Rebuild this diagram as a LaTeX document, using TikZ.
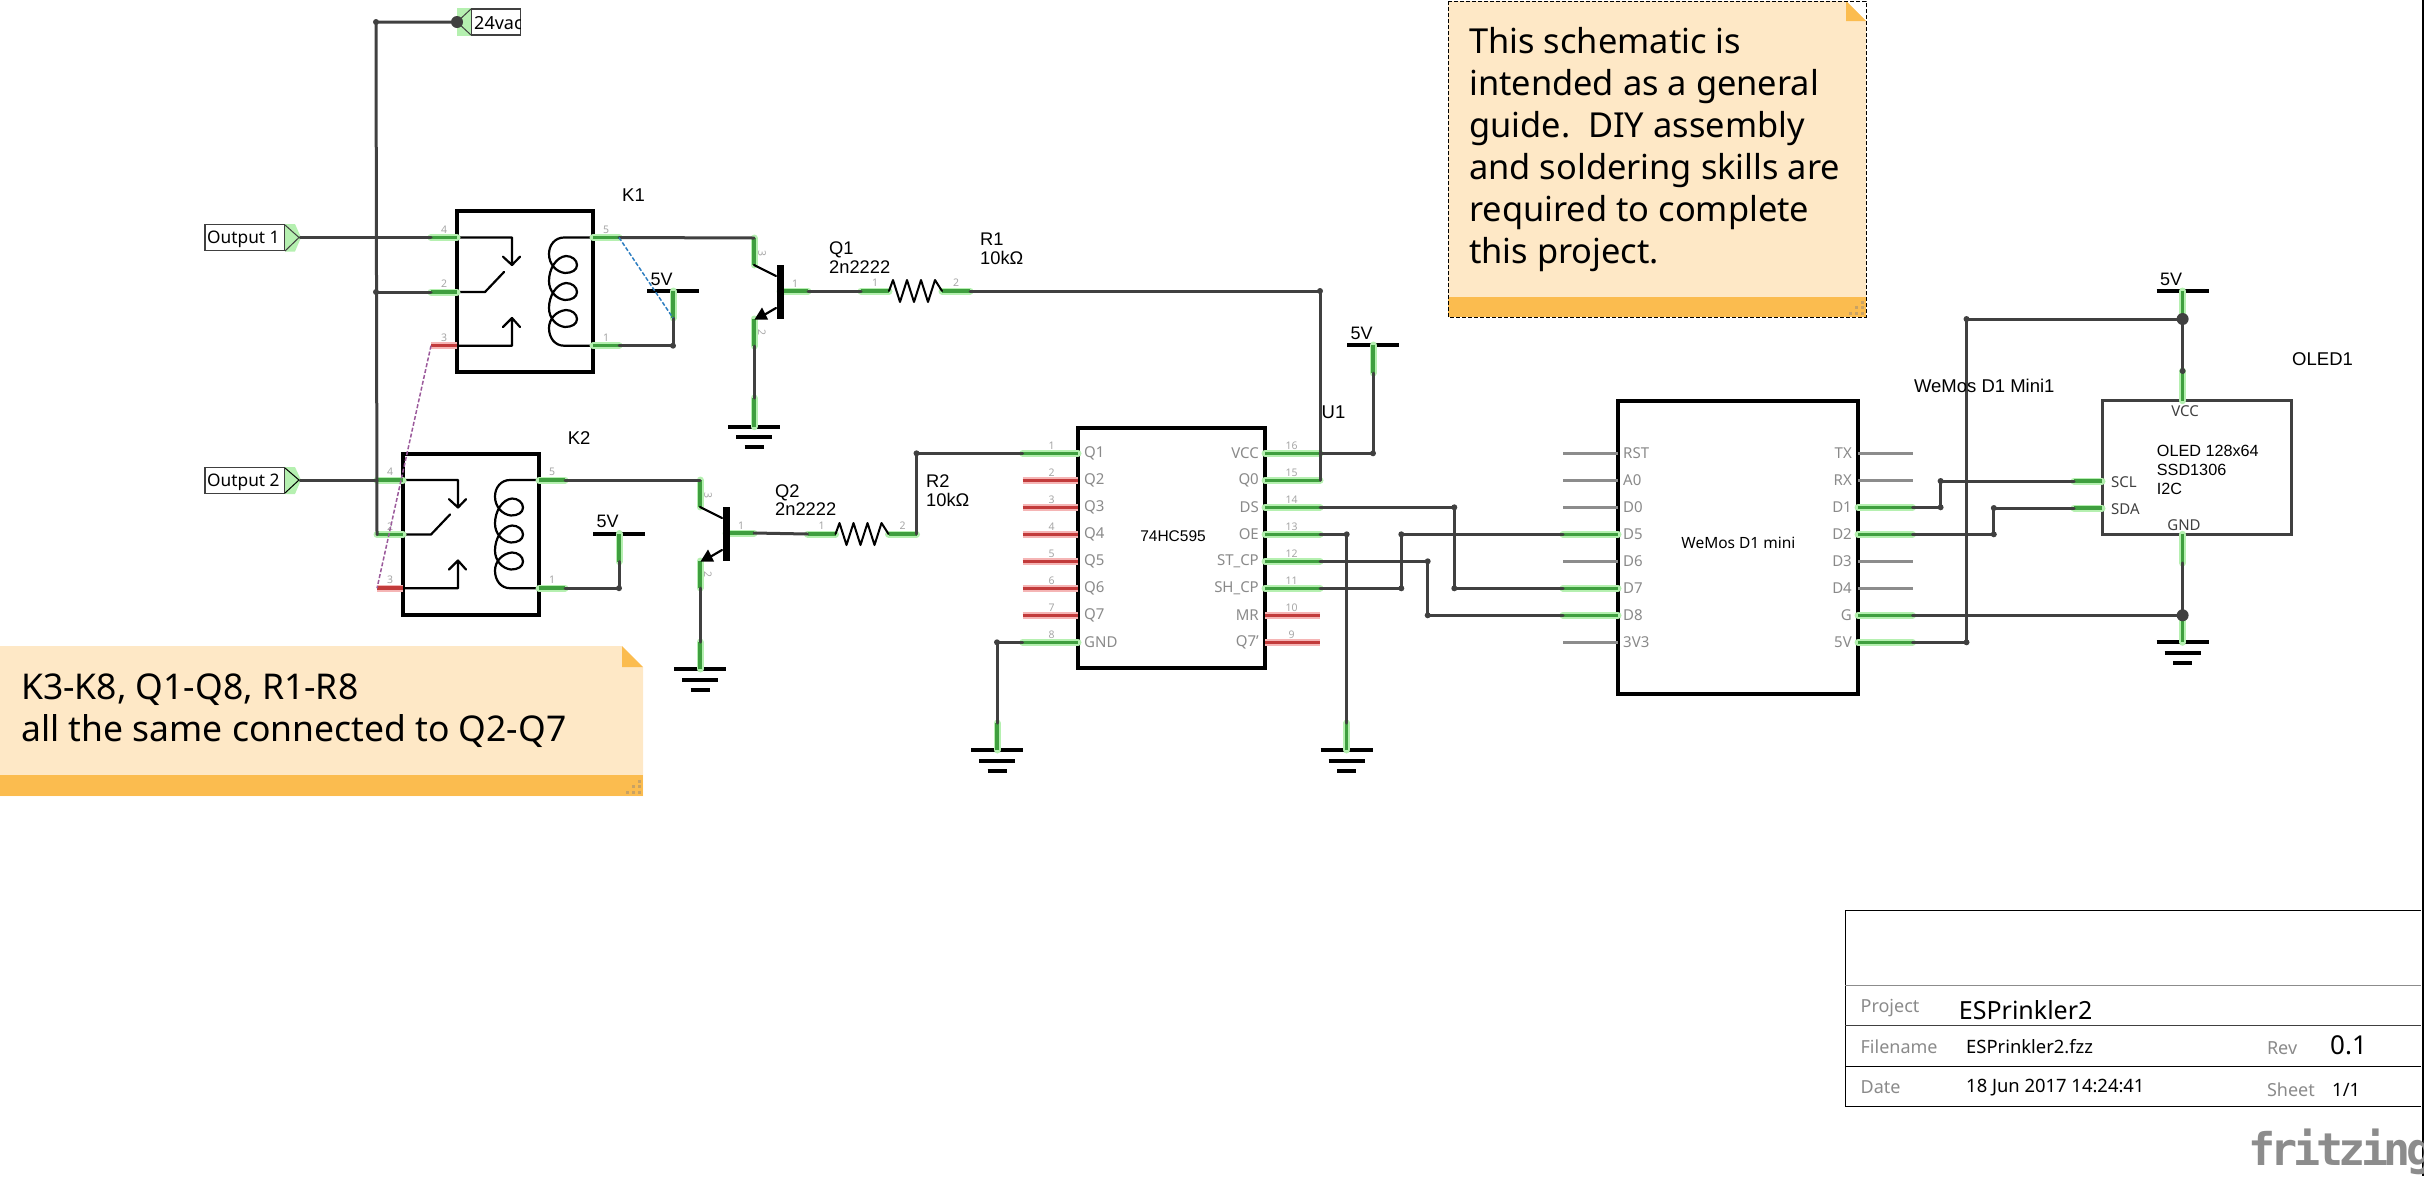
\documentclass[tikz,border=0pt]{standalone}
\usepackage{fontspec}
\setmainfont{Noto Sans}
\newfontfamily\arialf{Liberation Sans}
\newfontfamily\fzf[LetterSpace=-10]{DejaVu Sans Mono Bold}
\definecolor{wirec}{HTML}{404040}
\definecolor{okc}{HTML}{3F9F3F}
\definecolor{okh}{HTML}{B5F0B0}
\definecolor{badc}{HTML}{C23B3B}
\definecolor{badh}{HTML}{F5B5B5}
\definecolor{offc}{HTML}{8C8C8C}
\definecolor{notec}{HTML}{FEE8C6}
\definecolor{bandc}{HTML}{FBBC4F}
\definecolor{gripc}{HTML}{C9A263}
\definecolor{graytxt}{HTML}{8A8A8A}
\definecolor{ratblue}{HTML}{2F7FC1}
\definecolor{ratpurple}{HTML}{9B5A9B}
\newcommand{\fsz}[1]{\fontsize{#1}{#1}\selectfont}
\tikzset{
  x=1pt,y=-1pt,
  wire/.style={draw=wirec,line width=3pt,line cap=round,line join=round},
  pinok/.style={draw=okc,line width=3.5pt,preaction={draw=okh,line width=7pt,line cap=round}},
  pinbad/.style={draw=badc,line width=3.5pt,preaction={draw=badh,line width=7pt}},
  pinoff/.style={draw=offc,line width=3.5pt},
  sym/.style={draw=black,line width=2.2pt,line cap=round,line join=round},
  bar/.style={draw=black,line width=4pt},
  part/.style={draw=black,line width=4pt,fill=white,inner sep=0pt},
  lab/.style={font=\arialf\fsz{18.5},inner sep=0pt,anchor=west,text=black},
  lab2/.style={lab,align=left,font=\arialf\fontsize{18.3}{18.8}\selectfont},
  pinname/.style={font=\fsz{15},text=graytxt,inner sep=0pt},
  pinnum/.style={font=\fsz{10.5},text=black!35,inner sep=0pt},
  oledpin/.style={font=\fsz{15},text=wirec,inner sep=0pt},
  tlabel/.style={font=\fsz{18},text=graytxt,inner sep=0pt,anchor=west},
  tvalue/.style={font=\fsz{18.4},text=black,inner sep=0pt,anchor=west},
  flagbox/.style={draw=wirec,line width=1.2pt,fill=white,inner sep=0pt},
  notetext/.style={align=left,inner sep=0pt,anchor=base west,text=black},
  relay/.pic={
    \node[part,minimum width=136pt,minimum height=161pt] (-box) at (68,80.5) {};
    \coordinate (-4i) at (0,26.5); \coordinate (-2i) at (0,81); \coordinate (-3i) at (0,134.7);
    \coordinate (-5i) at (136,26.5); \coordinate (-1i) at (136,134.7);
    \draw[sym] (-4i) -- (55,26.5) -- (55,54) (46,45.7) -- (55,54) -- (63,45.7);
    \draw[sym] (-2i) -- (28,81) -- (47,61);
    \draw[sym] (-3i) -- (55,134.7) -- (55,107) (46,116) -- (55,107) -- (63,116);
    \draw[sym] (-5i) -- (107,26.5)
      .. controls (98,26.5) and (92,34) .. (92,43)
      .. controls (92,53) and (99,61) .. (108,62)
      .. controls (115,62) and (120,59) .. (120,54)
      .. controls (120,49) and (115,45) .. (109,45)
      .. controls (99,46) and (92,58) .. (92,70)
      .. controls (92,80) and (99,88) .. (108,89)
      .. controls (115,89) and (120,86) .. (120,81)
      .. controls (120,76) and (115,72) .. (109,72)
      .. controls (99,73) and (92,85) .. (92,97)
      .. controls (92,107) and (99,115) .. (108,116)
      .. controls (115,116) and (120,113) .. (120,108)
      .. controls (120,103) and (115,99) .. (109,99)
      .. controls (99,100) and (92,108) .. (92,117)
      .. controls (92,127) and (98,134.7) .. (107,134.7) -- (-1i);
    \coordinate (-4) at (-26,26.5); \coordinate (-2) at (-26,81); \coordinate (-3) at (-26,134.7);
    \coordinate (-5) at (162,26.5); \coordinate (-1) at (162,134.7);
    \draw[pinok] (-4) -- (-4i); \draw[pinok] (-2) -- (-2i); \draw[pinbad] (-3) -- (-3i);
    \draw[pinok] (-5i) -- (-5); \draw[pinok] (-1i) -- (-1);
    \node[pinnum] (-n4) at (-13,18.5) {4}; \node[pinnum] (-n2) at (-13,73) {2};
    \node[pinnum] (-n3) at (-13,126.7) {3}; \node[pinnum] (-n5) at (149,18.5) {5};
    \node[pinnum] (-n1) at (149,126.7) {1};
  },
  npn/.pic={
    \coordinate (-c) at (0,0); \coordinate (-ci) at (0,27);
    \coordinate (-b) at (54,53); \coordinate (-bi) at (26,53);
    \coordinate (-ei) at (0,81); \coordinate (-e) at (0,108);
    \draw[pinok] (-c) -- (-ci); \draw[pinok] (-ei) -- (-e); \draw[pinok] (-bi) -- (-b);
    \draw[sym] (-ci) -- (22,38);
    \draw[draw=black,line width=7pt] (26,27) -- (26,80.5);
    \draw[sym] (22,70) -- (10,77);
    \fill[black] (0.5,81.5) -- (8,69.5) -- (14,81.5) -- cycle;
    \node[pinnum,rotate=-90] (-n3) at (8,15) {3};
    \node[pinnum] (-n1) at (41,46) {1};
    \node[pinnum,rotate=-90] (-n2) at (8,94) {2};
  },
  resistor/.pic={
    \coordinate (-1) at (0,0); \coordinate (-1i) at (28,0);
    \coordinate (-2i) at (81,0); \coordinate (-2) at (109,0);
    \draw[pinok] (-1) -- (-1i); \draw[pinok] (-2i) -- (-2);
    \draw[sym,line width=2pt] (-1i) -- (32,-11) -- (39,11) -- (46,-11) -- (53,11) -- (60,-11) -- (67,11) -- (74,-11) -- (-2i);
    \node[pinnum] (-n1) at (14,-8) {1}; \node[pinnum] (-n2) at (95,-8) {2};
  },
  vcc/.pic={
    \coordinate (-p) at (0,0);
    \draw[bar] (-26,0) -- (26,0);
    \node[font=\arialf\fsz{18},inner sep=0pt] (-t) at (-11.5,-12) {5V};
  },
  gnd/.pic={
    \coordinate (-p) at (0,0);
    \draw[bar] (-26,0) -- (26,0) (-18,10.5) -- (18,10.5) (-9.5,20.5) -- (9.5,20.5);
  },
  grip/.pic={
    \foreach \a/\b in {-3.3/-15,-3.3/-9.4,-9.3/-9.4,-3.3/-3.7,-9.3/-3.7,-15.3/-3.7}
      \fill[gripc] (\a-1.5,\b-1.5) rectangle (\a+1.5,\b+1.5);
  },
  jn/.style={fill=wirec,circle,inner sep=0pt,minimum size=6pt},
  bigjn/.style={fill=wirec,circle,inner sep=0pt,minimum size=12pt},
}
\begin{document}
\begin{tikzpicture}
\useasboundingbox (0,0) rectangle (2424,1176);
\fill[black] (2422,0) rectangle (2424,1176);

% ---------- notes
\fill[notec] (1448,1) -- (1846,1) -- (1866,21) -- (1866,317) -- (1448,317) -- cycle;
\fill[bandc] (1448,297) rectangle (1866,317);
\fill[bandc] (1846,1) -- (1866,21) -- (1846,21) -- cycle;
\pic at (1866,317) {grip};
\draw[black,line width=1pt,dash pattern=on 4pt off 2pt] (1448,1) rectangle (1866,317);
\node[notetext,font=\fontsize{34.4}{42}\selectfont] (note1) at (1469,263.3) {This schematic is\\intended as a general\\guide.\ \ DIY assembly\\and soldering skills are\\required to complete\\this project.};

\fill[notec] (0,646) -- (622,646) -- (643,667) -- (643,796) -- (0,796) -- cycle;
\fill[bandc] (0,775) rectangle (643,796);
\fill[bandc] (622,646) -- (643,667) -- (622,667) -- cycle;
\pic at (643,796) {grip};
\node[notetext,font=\fontsize{35.5}{41.7}\selectfont] (note2) at (21,741) {K3-K8, Q1-Q8, R1-R8\\all the same connected to Q2-Q7};

% ---------- anchors of the relay section
\pic (K1) at (457,211) {relay};
\pic (K2) at (403,453.5) {relay};
\pic (Q1) at (754,238) {npn};
\pic (Q2) at (700,480) {npn};
\pic (R1) at (861,291) {resistor};
\pic (R2) at (807.5,534) {resistor};

% ---------- flags
\node[flagbox,minimum width=49.5pt,minimum height=26pt] (vacbox) at (495.8,22) {};
\begin{scope}
\clip (471,9) rectangle (520.5,35);
\node[font=\fsz{18},inner sep=0pt,anchor=west] (vactext) at (474,23) {24vac};
\end{scope}
\fill[okh] (457,7.5) rectangle (471,36);
\draw[wirec,line width=1pt] (471,9) -- (457,22) -- (471,35);
\coordinate (vac) at (457,22);

\node[flagbox,minimum width=80pt,minimum height=26pt] (out1) at (245,237.7) {};
\node[font=\fsz{17.3},inner sep=0pt,anchor=west] (out1t) at (207,239.7) {Output 1};
\fill[okh] (285,224) -- (295,224) -- (301,237.5) -- (295,251.5) -- (285,251.5) -- cycle;
\draw[wirec,line width=1pt] (285,225) -- (299,237.5) -- (285,251);
\coordinate (o1) at (300,237.5);

\node[flagbox,minimum width=80pt,minimum height=26pt] (out2) at (245,480.3) {};
\node[font=\fsz{17.3},inner sep=0pt,anchor=west] (out2t) at (207,482.3) {Output 2};
\fill[okh] (285,467) -- (295,467) -- (301,480) -- (295,494) -- (285,494) -- cycle;
\draw[black,line width=1pt] (285,468) -- (299,480) -- (285,493);
\coordinate (o2) at (300,480);

% ---------- power symbols
\pic (P1) at (673,291) {vcc};
\pic (P2) at (619,533.5) {vcc};
\pic (P3) at (1373,345) {vcc};
\pic (P4) at (2182.6,291) {vcc};
\pic (G1) at (754,426.7) {gnd};
\pic (G2) at (700,669) {gnd};
\pic (G3) at (997,750) {gnd};
\pic (G4) at (1346.7,750) {gnd};
\pic (G5) at (2182.6,642.3) {gnd};
\coordinate (P1a) at (673,318);
\coordinate (P2a) at (619,561.7);
\coordinate (P3a) at (1373,373);
\coordinate (P4a) at (2182.6,319);
\coordinate (G1a) at (754,398);
\coordinate (G2a) at (700,642);
\coordinate (G3a) at (997,723);
\coordinate (G4a) at (1346.7,723);
\draw[pinok] (P1-p) -- (P1a); \draw[pinok] (P2-p) -- (P2a); \draw[pinok] (P3-p) -- (P3a); \draw[pinok] (P4-p) -- (P4a);
\draw[pinok] (G1a) -- (G1-p); \draw[pinok] (G2a) -- (G2-p); \draw[pinok] (G3a) -- (G3-p); \draw[pinok] (G4a) -- (G4-p);

% ---------- U1
\node[part,minimum width=187pt,minimum height=240pt] (U1) at (1171.5,548) {};
\node[font=\arialf\fsz{15.5},inner sep=0pt] (U1t) at (1173,535.7) {74HC595};
\foreach \yy/\lab/\num/\st in {453.3/Q1/1/pinok,480.3/Q2/2/pinbad,507.3/Q3/3/pinbad,534.3/Q4/4/pinbad,561.3/Q5/5/pinbad,588.3/Q6/6/pinbad,615.3/Q7/7/pinbad,642.3/GND/8/pinok}{
  \coordinate (Ui\num) at (1078,\yy);
  \coordinate (U\num) at (1022.7,\yy);
  \draw[\st] (U\num) -- (Ui\num);
  \node[pinname,anchor=west] (Uname\num) at (1084,\yy) {\lab};
  \node[pinnum] (Unum\num) at (1051.7,\yy-7.5) {\num};
}
\foreach \yy/\lab/\num/\st in {453.3/VCC/16/pinok,480.3/Q0/15/pinok,507.3/DS/14/pinok,534.3/OE/13/pinok,561.3/ST\_CP/12/pinok,588.3/SH\_CP/11/pinok,615.3/MR/10/pinbad,642.3/Q7'/9/pinbad}{
  \coordinate (Ui\num) at (1265,\yy);
  \coordinate (U\num) at (1320,\yy);
  \draw[\st] (Ui\num) -- (U\num);
  \node[pinname,anchor=east] (Uname\num) at (1259,\yy) {\lab};
  \node[pinnum] (Unum\num) at (1291.7,\yy-7.5) {\num};
}

% ---------- WeMos
\node[part,minimum width=240pt,minimum height=293pt] (W) at (1737.8,547.3) {};
\node[font=\fsz{15.5},inner sep=0pt] (Wt) at (1738.4,542.7) {WeMos D1 mini};
\foreach \yy/\lab/\st in {453.3/RST/pinoff,480.3/A0/pinoff,507.3/D0/pinoff,534.3/D5/pinok,561.3/D6/pinoff,588.3/D7/pinok,615.3/D8/pinok,642.3/3V3/pinoff}{
  \coordinate (Wli\lab) at (1618,\yy);
  \coordinate (Wl\lab) at (1563,\yy);
  \draw[\st] (Wl\lab) -- (Wli\lab);
  \node[pinname,anchor=west] (Wlname\lab) at (1623,\yy) {\lab};
}
\foreach \yy/\lab/\st in {453.3/TX/pinoff,480.3/RX/pinoff,507.3/D1/pinok,534.3/D2/pinok,561.3/D3/pinoff,588.3/D4/pinoff,615.3/G/pinok,642.3/5V/pinok}{
  \coordinate (Wri\lab) at (1858,\yy);
  \coordinate (Wr\lab) at (1912.5,\yy);
  \draw[\st] (Wri\lab) -- (Wr\lab);
  \node[pinname,anchor=east] (Wrname\lab) at (1852,\yy) {\lab};
}

% ---------- OLED
\node[draw=wirec,line width=3pt,fill=white,minimum width=189pt,minimum height=133.6pt,inner sep=0pt] (O) at (2196.5,467.5) {};
\coordinate (Ovcc) at (2182.6,400.7); \coordinate (Ovcca) at (2182.6,371);
\coordinate (Ognd) at (2182.6,534.3); \coordinate (Ognda) at (2182.6,563);
\coordinate (Oscl) at (2102,481); \coordinate (Oscla) at (2074,481);
\coordinate (Osda) at (2102,508); \coordinate (Osdaa) at (2074,508);
\draw[pinok] (Ovcc) -- (Ovcca); \draw[pinok] (Ognd) -- (Ognda);
\draw[pinok] (Oscl) -- (Oscla); \draw[pinok] (Osda) -- (Osdaa);
\node[oledpin] (Ot1) at (2185,411) {VCC};
\node[oledpin] (Ot2) at (2184,525) {GND};
\node[oledpin,anchor=west] (Ot3) at (2111,482.5) {SCL};
\node[oledpin,anchor=west] (Ot4) at (2111,509) {SDA};
\node[font=\arialf\fontsize{16.2}{19.2}\selectfont,align=left,inner sep=0pt,anchor=west] (Ot5) at (2156.7,470) {OLED 128x64\\SSD1306\\I2C};

% ---------- wires
\coordinate (tr1) at (376,22);
\coordinate (tr2) at (376,292);
\coordinate (tr3) at (377,534);
\draw[wire] (vac) -- (tr1) -- (tr3) -- (K2-2);
\draw[wire] (tr2) -- (K1-2);
\draw[wire] (o1) -- (K1-4);
\draw[wire] (o2) -- (K2-4);
\draw[wire] (K1-5) -- (Q1-c);
\draw[wire] (K2-5) -- (Q2-c);
\draw[wire] (K1-1) -| (P1a);
\draw[wire] (K2-1) -| (P2a);
\draw[wire] (Q1-e) -- (G1a);
\draw[wire] (Q2-e) -- (G2a);
\draw[wire] (Q1-b) -- (R1-1);
\draw[wire] (Q2-b) -- (R2-1);
\draw[wire] (R1-2) -| (U15);
\draw[wire] (R2-2) |- (U1);
\draw[wire] (U16) -| (P3a);
\draw[wire] (U8) -| (G3a);
\coordinate (ds) at (1454.3,507.3);
\draw[wire] (U14) -- (ds) |- (WlD7);
\coordinate (oe) at (1346.7,534.3);
\draw[wire] (U13) -- (oe) -- (G4a);
\coordinate (st) at (1427.7,561.3);
\draw[wire] (U12) -- (st) |- (WlD8);
\coordinate (sh) at (1401.3,588.3);
\draw[wire] (U11) -- (sh) |- (WlD5);
\coordinate (d1b) at (1940.6,507.3);
\draw[wire] (WrD1) -- (d1b) |- (Oscla);
\coordinate (d2b) at (1993.8,534.3);
\draw[wire] (WrD2) -- (d2b) |- (Osdaa);
\coordinate (v5b) at (1966.5,642.3);
\draw[wire] (Wr5V) -- (v5b) |- (P4a);
\draw[wire] (WrG) -| (Ognda);
\draw[wire] (P4a) -- (Ovcca);
\draw[wire] (Ognda) -- (G5-p);
\coordinate (G5a) at (2182.6,615);
\draw[pinok] (G5a) -- (G5-p);

\foreach \c in {tr1,tr2,ds,oe,st,sh,d1b,d2b,v5b}{ \node[jn] at (\c) {}; }
\node[jn] at (R1-2 -| U15) {};
\node[jn] at (R2-2 |- U1) {};
\node[jn] at (U16 -| P3a) {};
\node[jn] at (U8 -| G3a) {};
\node[jn] at (K1-1 -| P1a) {};
\node[jn] at (K2-1 -| P2a) {};
\node[jn] at (ds |- WlD7) {};
\node[jn] at (st |- WlD8) {};
\node[jn] at (sh |- WlD5) {};
\node[jn] at (d1b |- Oscla) {};
\node[jn] at (d2b |- Osdaa) {};
\node[jn] at (v5b |- P4a) {};
\node[jn] at (Ovcca) {};
\node[bigjn] at (vac) {};
\node[bigjn] at (P4a) {};
\node[bigjn] at (WrG -| Ognda) {};

% ---------- dashed ratsnest
\draw[draw=ratblue,line width=1.5pt,dash pattern=on 4pt off 2pt] (K1-5) -- (P1a);
\draw[draw=ratpurple,line width=1.5pt,dash pattern=on 4pt off 2pt] (K1-3) -- (K2-3);

% ---------- part labels
\node[lab] (K1t) at (622,195) {K1};
\node[lab] (K2t) at (567.7,437.7) {K2};
\node[lab2] (Q1t) at (829,257.5) {Q1\\2n2222};
\node[lab2] (Q2t) at (775,500) {Q2\\2n2222};
\node[lab2] (R1t) at (980,248.5) {R1\\10kΩ};
\node[lab2] (R2t) at (926,491) {R2\\10kΩ};
\node[lab] (U1l) at (1321.5,412.7) {U1};
\node[lab] (Wl) at (1913.8,385.7) {WeMos D1 Mini1};
\node[lab] (Ol) at (2292,359) {OLED1};

% ---------- title block
\draw[black,line width=1.5pt] (2421,910.7) -- (1845.4,910.7) -- (1845.4,1106.7) -- (2421,1106.7);
\coordinate (tl1) at (1845.4,985.3); \coordinate (tr1b) at (2421,985.3);
\coordinate (tl2) at (1845.4,1025.7); \coordinate (tr2b) at (2421,1025.7);
\coordinate (tl3) at (1845.4,1066.7); \coordinate (tr3b) at (2421,1066.7);
\draw[offc,line width=1.5pt] (tl1) -- (tr1b);
\draw[wirec,line width=1.5pt] (tl2) -- (tr2b);
\draw[black,line width=1.5pt] (tl3) -- (tr3b);
\node[tlabel] (tp) at (1860.4,1008.2) {Project};
\node[tvalue,font=\fsz{25}] (tpv) at (1958.7,1010) {ESPrinkler2};
\node[tlabel] (tf) at (1860.4,1047) {Filename};
\node[tvalue] (tfv) at (1966,1047) {ESPrinkler2.fzz};
\node[tlabel] (tr) at (2266.8,1048) {Rev};
\node[tvalue,font=\fsz{26}] (trv) at (2330,1045) {0.1};
\node[tlabel] (td) at (1860.4,1087) {Date};
\node[tvalue] (tdv) at (1966,1088) {18 Jun 2017 14:24:41};
\node[tlabel] (ts) at (2266.8,1090) {Sheet};
\node[tvalue] (tsv) at (2332,1090) {1/1};
\node[font=\fzf\fsz{45},text=offc,inner sep=0pt,anchor=base west] (logo) at (2248,1165) {fritzing};
\end{tikzpicture}
\end{document}
